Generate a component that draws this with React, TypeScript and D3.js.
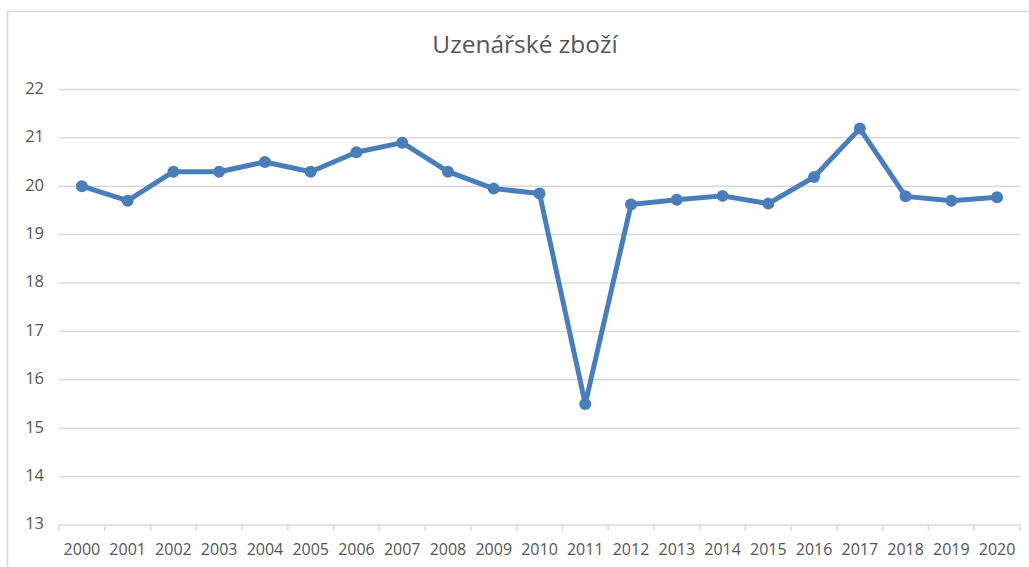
import React from "react";
import * as d3 from "d3";

const years: string[] = ["2000","2001","2002","2003","2004","2005","2006","2007","2008","2009","2010","2011","2012","2013","2014","2015","2016","2017","2018","2019","2020"];
const values: number[] = [20.0,19.7,20.3,20.3,20.5,20.3,20.7,20.9,20.3,19.95,19.85,15.5,19.62,19.72,19.8,19.64,20.19,21.19,19.79,19.7,19.77];
const yTicks: number[] = [13,14,15,16,17,18,19,20,21,22];
const title = "Uzenářské zboží";

const W = 1029, H = 567;
const left = 59, right = 1020, top = 89.4, bottom = 525;
const textColor = "#555555";
const lineColor = "#4a7ebb";
const font = "'Open Sans', sans-serif";

export default function App() {
  const x = d3.scaleBand<string>().domain(years).range([left, right]);
  const y = d3.scaleLinear().domain([13, 22]).range([bottom, top]);
  const line = d3.line<number>()
    .x((_, i) => (x(years[i]) as number) + x.bandwidth() / 2)
    .y((d) => y(d));
  const tickXs = years.map((yr) => x(yr) as number).concat([right]);
  return (
    <svg width={W} height={H} style={{ position: "absolute", left: 0, top: 0 }}>
      <rect x={0} y={0} width={W} height={H} fill="#fff" />
      <rect x={7.5} y={11.5} width={W + 10} height={H + 10} fill="none" stroke="#d9d9d9" strokeWidth={1.5} />
      <text x={525} y={46} textAnchor="middle" dominantBaseline="middle" fontFamily={font} fontSize={24.5} fill={textColor}>{title}</text>
      {yTicks.map((t) => (
        <g key={t}>
          <line x1={left} x2={right} y1={y(t)} y2={y(t)} stroke="#d9d9d9" strokeWidth={1.5} />
          <text x={44} y={y(t)} textAnchor="end" dominantBaseline="middle" fontFamily={font} fontSize={16.5} fill={textColor}>{t}</text>
        </g>
      ))}
      {tickXs.map((tx, i) => (
        <line key={i} x1={tx} x2={tx} y1={bottom} y2={bottom + 6} stroke="#d9d9d9" strokeWidth={1.5} />
      ))}
      {years.map((yr) => (
        <text key={yr} x={(x(yr) as number) + x.bandwidth() / 2} y={551} textAnchor="middle" dominantBaseline="middle" fontFamily={font} fontSize={16} fill={textColor}>{yr}</text>
      ))}
      <path d={line(values) as string} fill="none" stroke={lineColor} strokeWidth={5} strokeLinejoin="round" />
      {values.map((v, i) => (
        <circle key={i} cx={(x(years[i]) as number) + x.bandwidth() / 2} cy={y(v)} r={6} fill={lineColor} />
      ))}
    </svg>
  );
}
